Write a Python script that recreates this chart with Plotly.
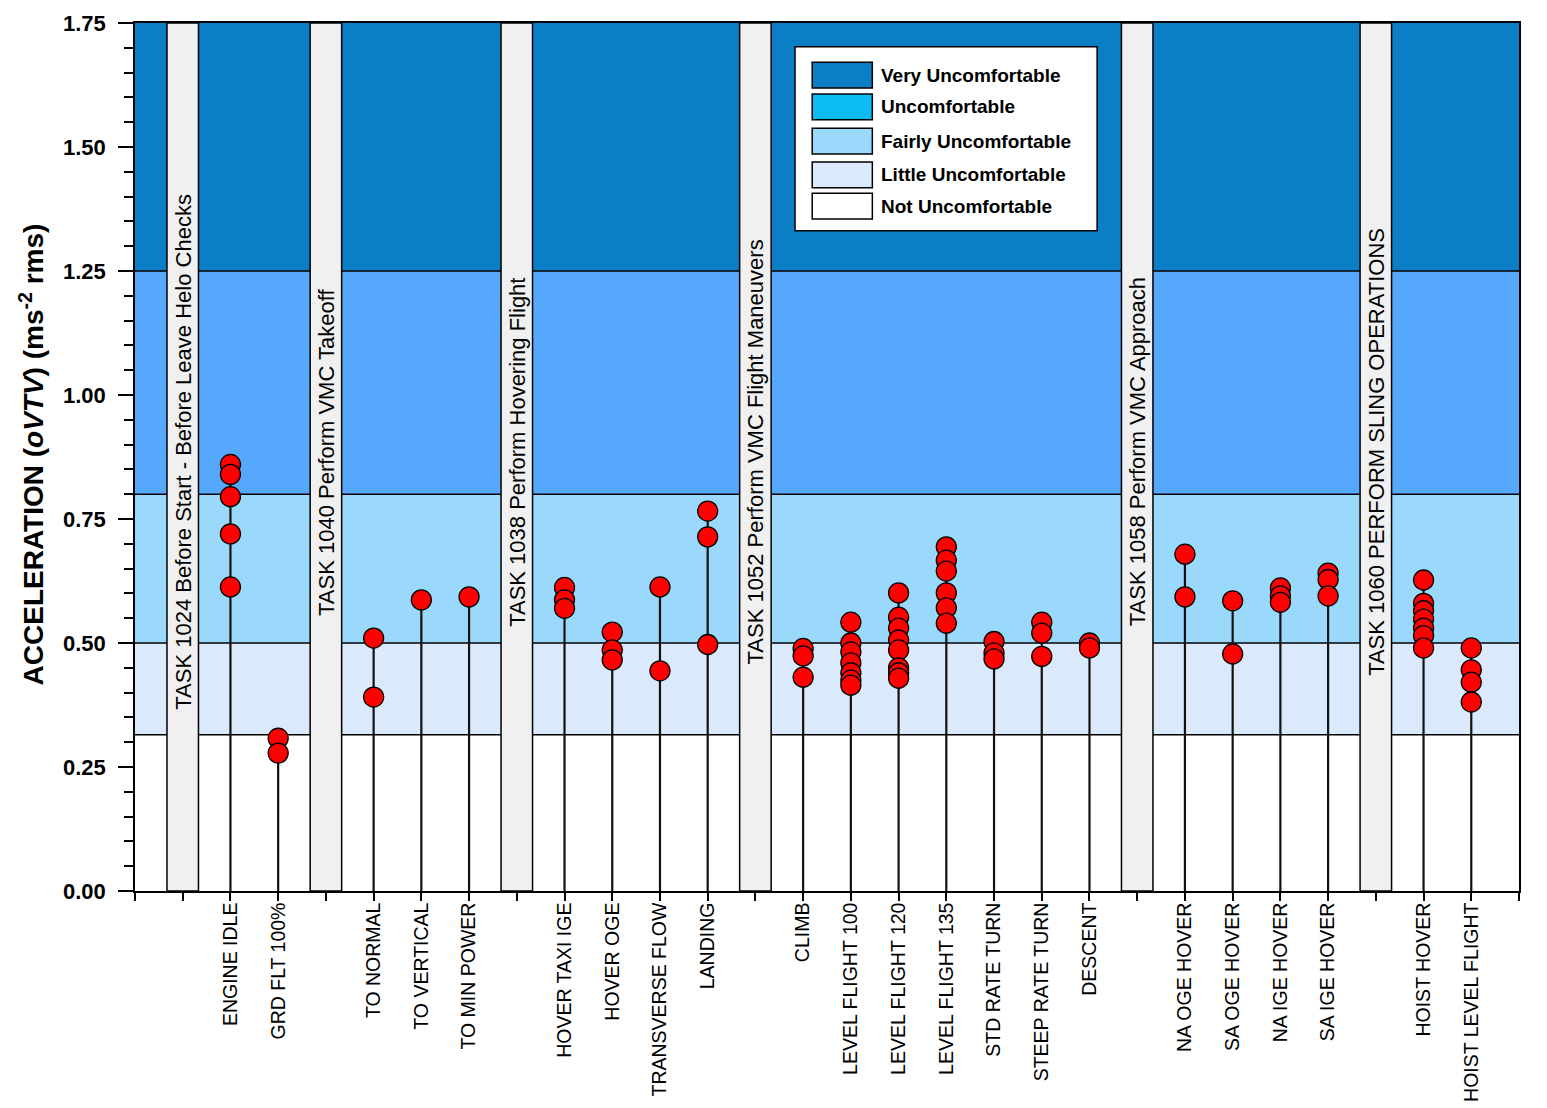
import plotly.graph_objects as go

# ---------------- data ----------------
task_labels = [
    "TASK 1024 Before Start - Before Leave Helo Checks",
    "TASK 1040 Perform VMC Takeoff",
    "TASK 1038 Perform Hovering Flight",
    "TASK 1052 Perform VMC Flight Maneuvers",
    "TASK 1058 Perform VMC Approach",
    "TASK 1060 PERFORM SLING OPERATIONS",
]
task_categories = [
    ["ENGINE IDLE", "GRD FLT 100%"],
    ["TO NORMAL", "TO VERTICAL", "TO MIN POWER"],
    ["HOVER TAXI IGE", "HOVER OGE", "TRANSVERSE FLOW", "LANDING"],
    ["CLIMB", "LEVEL FLIGHT 100", "LEVEL FLIGHT 120", "LEVEL FLIGHT 135",
     "STD RATE TURN", "STEEP RATE TURN", "DESCENT"],
    ["NA OGE HOVER", "SA OGE HOVER", "NA IGE HOVER", "SA IGE HOVER"],
    ["HOIST HOVER", "HOIST LEVEL FLIGHT"],
]
accel_values = {
    "ENGINE IDLE": [0.86, 0.84, 0.795, 0.72, 0.613],
    "GRD FLT 100%": [0.308, 0.278],
    "TO NORMAL": [0.51, 0.391],
    "TO VERTICAL": [0.587],
    "TO MIN POWER": [0.593],
    "HOVER TAXI IGE": [0.612, 0.587, 0.57],
    "HOVER OGE": [0.522, 0.486, 0.466],
    "TRANSVERSE FLOW": [0.613, 0.444],
    "LANDING": [0.766, 0.714, 0.497],
    "CLIMB": [0.489, 0.474, 0.431],
    "LEVEL FLIGHT 100": [0.542, 0.50, 0.482, 0.46, 0.44, 0.425, 0.415],
    "LEVEL FLIGHT 120": [0.601, 0.552, 0.53, 0.506, 0.486, 0.45, 0.44, 0.429],
    "LEVEL FLIGHT 135": [0.694, 0.667, 0.645, 0.601, 0.571, 0.54],
    "STD RATE TURN": [0.503, 0.48, 0.468],
    "STEEP RATE TURN": [0.542, 0.52, 0.473],
    "DESCENT": [0.50, 0.49],
    "NA OGE HOVER": [0.679, 0.593],
    "SA OGE HOVER": [0.585, 0.478],
    "NA IGE HOVER": [0.611, 0.595, 0.582],
    "SA IGE HOVER": [0.641, 0.628, 0.595],
    "HOIST HOVER": [0.627, 0.58, 0.565, 0.548, 0.53, 0.515, 0.49],
    "HOIST LEVEL FLIGHT": [0.49, 0.446, 0.421, 0.381],
}
zone_names = ["Very Uncomfortable", "Uncomfortable", "Fairly Uncomfortable",
              "Little Uncomfortable", "Not Uncomfortable"]
zone_lower = [1.25, 0.8, 0.5, 0.315, 0.0]
zone_upper = [1.75, 1.25, 0.8, 0.5, 0.315]
zone_colors = ["#0b7fc5", "#55a8fc", "#9bd9fc", "#dbe9fc", "#ffffff"]
legend_colors = ["#0b7fc5", "#0dbcf5", "#9bd9fc", "#dbe9fc", "#ffffff"]
y_ticks = [0.0, 0.25, 0.5, 0.75, 1.0, 1.25, 1.5, 1.75]

# ---------------- layout of category slots ----------------
task_pos = []
cat_pos = {}
cur = 1
for t, cats in zip(task_labels, task_categories):
    task_pos.append(cur)
    for i, c in enumerate(cats):
        cat_pos[c] = cur + 1 + i
    cur += len(cats) + 1
x_max = cur  # right edge

tickvals = list(range(0, x_max + 1))
ticktext = [" "] * len(tickvals)
for c, p in cat_pos.items():
    ticktext[p] = c

fig = go.Figure()

shapes = []
# comfort zones
for lo, hi, col in zip(zone_lower, zone_upper, zone_colors):
    shapes.append(dict(type="rect", xref="x", yref="y", x0=0, x1=x_max, y0=lo, y1=hi,
                       fillcolor=col, line=dict(width=0), layer="below"))
for b in zone_lower[:-1]:
    shapes.append(dict(type="line", xref="x", yref="y", x0=0, x1=x_max, y0=b, y1=b,
                       line=dict(color="black", width=1.5), layer="below"))
# task separator bars
for p in task_pos:
    shapes.append(dict(type="rect", xref="x", yref="y", x0=p - 0.33, x1=p + 0.33,
                       y0=0, y1=1.75, fillcolor="#f0f0f0",
                       line=dict(color="black", width=1.5), layer="below"))

# stems
for c, vals in accel_values.items():
    p = cat_pos[c]
    fig.add_trace(go.Scatter(x=[p, p], y=[0, max(vals)], mode="lines",
                             line=dict(color="#111111", width=2.2),
                             showlegend=False, hoverinfo="skip"))
# markers
mx, my = [], []
for c, vals in accel_values.items():
    for v in vals:
        mx.append(cat_pos[c])
        my.append(v)
fig.add_trace(go.Scatter(x=mx, y=my, mode="markers",
                         marker=dict(symbol="circle", size=20, color="#ff0000",
                                     line=dict(color="black", width=1.3)),
                         showlegend=False))

annotations = []
for t, p in zip(task_labels, task_pos):
    annotations.append(dict(x=p, y=0.885, xref="x", yref="y", text=t, textangle=-90,
                            showarrow=False, xanchor="center", yanchor="middle",
                            font=dict(family="Liberation Sans, Arial", size=22, color="black")))

# legend box (drawn in data coordinates)
lx0, lx1, ly0, ly1 = 13.83, 20.16, 1.331, 1.702
shapes.append(dict(type="rect", xref="x", yref="y", x0=lx0, x1=lx1, y0=ly0, y1=ly1,
                   fillcolor="white", line=dict(color="black", width=1.5), layer="above"))
row_y = [1.645, 1.581, 1.512, 1.444, 1.381]
for name, col, ry in zip(zone_names, legend_colors, row_y):
    shapes.append(dict(type="rect", xref="x", yref="y", x0=14.19, x1=15.45,
                       y0=ry - 0.026, y1=ry + 0.026, fillcolor=col,
                       line=dict(color="black", width=1.5), layer="above"))
    annotations.append(dict(x=15.58, y=ry, xref="x", yref="y", text="<b>%s</b>" % name,
                            showarrow=False, xanchor="left", yanchor="middle",
                            font=dict(family="Liberation Sans, Arial", size=19, color="black")))

# y-axis title
annotations.append(dict(x=-0.0744, y=0.503, xref="paper", yref="paper",
                        text="<b>ACCELERATION (<i>oVTV</i>) (ms<sup>-2</sup> rms)</b>",
                        textangle=-90, showarrow=False, xanchor="center", yanchor="middle",
                        font=dict(family="Liberation Sans, Arial", size=28, color="black")))

fig.update_layout(
    width=1547, height=1108,
    margin=dict(l=127, r=36, t=15, b=225, autoexpand=False),
    paper_bgcolor="white", plot_bgcolor="white",
    shapes=shapes, annotations=annotations,
    font=dict(family="Liberation Sans, Arial", color="black"),
    xaxis=dict(range=[0, x_max], tickmode="array", tickvals=tickvals, ticktext=ticktext,
               tickangle=-90, ticks="outside", ticklen=8, tickwidth=1.5, tickcolor="black",
               showgrid=False, zeroline=False, showline=True, linecolor="black",
               linewidth=1.5, mirror=True, automargin=False, ticklabelstandoff=-6,
               tickfont=dict(family="Liberation Sans, Arial", size=19.5, color="black")),
    yaxis=dict(range=[0, 1.75], tickmode="array", tickvals=y_ticks,
               ticktext=["<b>%.2f</b>" % v for v in y_ticks],
               ticks="outside", ticklen=15, tickwidth=1.5, tickcolor="black",
               minor=dict(dtick=0.05, ticks="outside", ticklen=9, tickwidth=1.5,
                          tickcolor="black", showgrid=False),
               showgrid=False, zeroline=False, showline=True, linecolor="black",
               linewidth=1.5, mirror=True, ticklabelstandoff=8, automargin=False,
               tickfont=dict(family="Liberation Sans, Arial", size=22, color="black")),
)

fig.write_html("out.html")
